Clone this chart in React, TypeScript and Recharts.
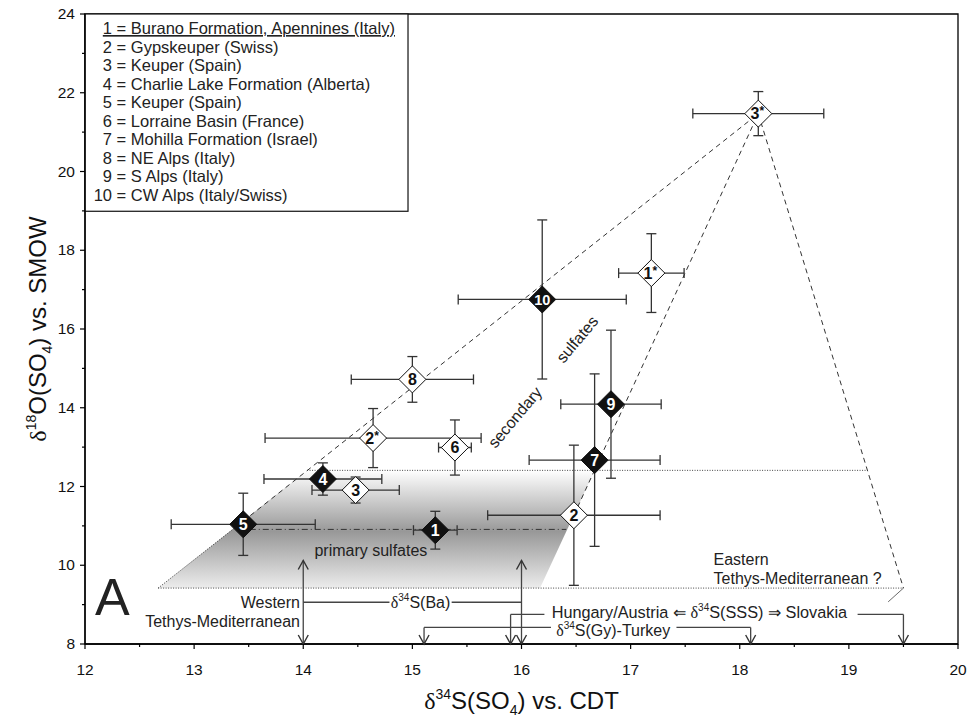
import React from "react";
import {
  ComposedChart,
  XAxis,
  YAxis,
  Area,
  Scatter,
  ErrorBar,
  ReferenceLine,
  ReferenceDot,
  ReferenceArea,
} from "recharts";

const FONT = '"Liberation Sans", Arial, Helvetica, sans-serif';
const GREEK = '"Liberation Serif", "Times New Roman", serif';

// axis ticks
const xTicks = [12, 12.5, 13, 13.5, 14, 14.5, 15, 15.5, 16, 16.5, 17, 17.5, 18, 18.5, 19, 19.5, 20];
const yTicks = [8, 9, 10, 11, 12, 13, 14, 15, 16, 17, 18, 19, 20, 21, 22, 23, 24];

// sample means (d34S vs CDT, d18O vs SMOW) with their spread
const sampleIds = ["1", "2", "3", "4", "5", "6", "7", "8", "9", "10", "1*", "2*", "3*"];
const d34S = [15.21, 16.48, 14.48, 14.18, 13.45, 15.39, 16.67, 15.0, 16.82, 16.19, 17.19, 14.64, 18.17];
const d18O = [10.89, 11.27, 11.91, 12.19, 11.04, 12.99, 12.67, 14.72, 14.09, 16.75, 17.42, 13.23, 21.47];
const errS = [0.2, 0.79, 0.4, 0.54, 0.66, 0.15, 0.6, 0.56, 0.46, 0.77, 0.3, 0.99, 0.6];
const errO = [0.48, 1.78, 0.33, 0.41, 0.79, 0.7, 2.19, 0.58, 1.88, 2.02, 1.0, 0.75, 0.56];
const filledIds = ["1", "4", "5", "7", "9", "10"];

const legendNames = [
  "Burano Formation, Apennines (Italy)",
  "Gypskeuper (Swiss)",
  "Keuper (Spain)",
  "Charlie Lake Formation (Alberta)",
  "Keuper (Spain)",
  "Lorraine Basin (France)",
  "Mohilla Formation (Israel)",
  "NE Alps (Italy)",
  "S Alps (Italy)",
  "CW Alps (Italy/Swiss)",
];

// primary sulfate field (range of d18O at each d34S)
const primaryField = [
  { x: 12.67, band: [9.42, 9.42] },
  { x: 14.035, band: [9.42, 12.41] },
  { x: 16.17, band: [9.42, 12.41] },
  { x: 16.67, band: [12.41, 12.41] },
];

// secondary sulfate envelope lines
const upperEnvelope = [{ x: 13.45, y: 11.12 }, { x: 18.17, y: 21.47 }];
const lowerEnvelope = [{ x: 16.48, y: 11.27 }, { x: 18.17, y: 21.47 }];
const easternEdge = [{ x: 18.17, y: 21.47 }, { x: 19.5, y: 9.42 }];
const primaryEdge = [{ x: 12.67, y: 9.42 }, { x: 13.45, y: 11.12 }];

const samples = sampleIds.map((id, i) => ({
  id,
  x: d34S[i],
  y: d18O[i],
  ex: errS[i],
  ey: errO[i],
  filled: filledIds.includes(id),
}));

const XTick = (props: any) => {
  const { x, y, payload } = props;
  const v = payload.value;
  const major = Number.isInteger(v);
  return (
    <g>
      <line x1={x} x2={x} y1={y} y2={y + (major ? 5 : 3)} stroke="#000" strokeWidth={1.2} />
      {major && (
        <text x={x} y={y + 31} textAnchor="middle" fontSize={15.5} fontFamily={FONT} fill="#111">
          {v}
        </text>
      )}
    </g>
  );
};

const YTick = (props: any) => {
  const { x, y, payload } = props;
  const v = payload.value;
  const major = v % 2 === 0;
  return (
    <g>
      <line x1={x - (major ? 5 : 3)} x2={x} y1={y} y2={y} stroke="#000" strokeWidth={1.2} />
      {major && (
        <text x={x - 10} y={y + 5} textAnchor="end" fontSize={15.5} fontFamily={FONT} fill="#111">
          {v}
        </text>
      )}
    </g>
  );
};

const XTitle = (props: any) => {
  const vb = props.viewBox;
  return (
    <text x={vb.x + vb.width / 2} y={vb.y + 65} textAnchor="middle" fontSize={24} fontFamily={FONT} fill="#111">
      <tspan fontFamily={GREEK}>δ</tspan>
      <tspan fontSize={14} dy={-10}>34</tspan>
      <tspan dy={10}>S(SO</tspan>
      <tspan fontSize={14} dy={6}>4</tspan>
      <tspan dy={-6}>) vs. CDT</tspan>
    </text>
  );
};

const YTitle = (props: any) => {
  const vb = props.viewBox;
  const cx = 46;
  const cy = vb.y + vb.height / 2;
  return (
    <text
      x={cx}
      y={cy}
      transform={`rotate(-90 ${cx} ${cy})`}
      textAnchor="middle"
      fontSize={24}
      fontFamily={FONT}
      fill="#111"
    >
      <tspan fontFamily={GREEK}>δ</tspan>
      <tspan fontSize={14} dy={-10}>18</tspan>
      <tspan dy={10}>O(SO</tspan>
      <tspan fontSize={14} dy={6}>4</tspan>
      <tspan dy={-6}>) vs. SMOW</tspan>
    </text>
  );
};

const Diamond = (props: any) => {
  const { cx, cy, payload } = props;
  const r = 13.5;
  const filled = payload.filled;
  const id: string = payload.id;
  const star = id.endsWith("*");
  const num = star ? id.slice(0, -1) : id;
  return (
    <g>
      <polygon
        points={`${cx},${cy - r} ${cx + r},${cy} ${cx},${cy + r} ${cx - r},${cy}`}
        fill={filled ? "#111" : "#fff"}
        stroke="#111"
        strokeWidth={1}
      />
      <text
        x={star ? cx - 1 : cx}
        y={cy + 5.5}
        textAnchor="middle"
        fontSize={id.length > 1 && !star ? 14.5 : 16}
        fontWeight="bold"
        fontFamily={FONT}
        fill={filled ? "#fff" : "#111"}
      >
        {num}
        {star && (
          <tspan fontSize={12} dy={-4}>
            *
          </tspan>
        )}
      </text>
    </g>
  );
};

const NoShape = () => <g />;

const LegendBox = (props: any) => {
  const { x, y, width, height } = props;
  return (
    <g>
      <rect x={x} y={y} width={width} height={height} fill="#fff" stroke="#111" strokeWidth={1.2} />
      {legendNames.map((name, i) => (
        <g key={name + i} fontSize={16.5} fontFamily={FONT} fill="#222">
          <text x={x + 27} y={y + 20 + i * 18.5} textAnchor="end" textDecoration={i === 0 ? "underline" : undefined}>
            {i + 1}
          </text>
          <text
            x={x + 27}
            y={y + 20 + i * 18.5}
            style={{ whiteSpace: "pre" }}
            textDecoration={i === 0 ? "underline" : undefined}
          >
            {` = ${name}`}
          </text>
        </g>
      ))}
    </g>
  );
};

const arrowDown = (p: any) => (
  <path d={`M${p.cx - 5},${p.cy - 9} L${p.cx},${p.cy} L${p.cx + 5},${p.cy - 9}`} fill="none" stroke="#333" strokeWidth={1.4} />
);
const arrowUp = (p: any) => (
  <path d={`M${p.cx - 5},${p.cy + 9} L${p.cx},${p.cy} L${p.cx + 5},${p.cy + 9}`} fill="none" stroke="#333" strokeWidth={1.4} />
);

const note = (
  key: string,
  x: number,
  y: number,
  content: React.ReactNode,
  anchor: "start" | "middle" | "end" = "middle",
  extra: { rotate?: number; size?: number } = {}
) => (
  <ReferenceDot
    key={key}
    x={x}
    y={y}
    r={0}
    ifOverflow="visible"
    shape={(p: any) => (
      <text
        x={p.cx}
        y={p.cy}
        dy="0.35em"
        textAnchor={anchor}
        fontSize={extra.size ?? 16}
        fontFamily={FONT}
        fill="#222"
        transform={extra.rotate ? `rotate(${extra.rotate} ${p.cx} ${p.cy})` : undefined}
      >
        {content}
      </text>
    )}
  />
);

const seg = (key: string, a: [number, number], b: [number, number], style: any = {}) => (
  <ReferenceLine
    key={key}
    segment={[{ x: a[0], y: a[1] }, { x: b[0], y: b[1] }]}
    stroke={style.stroke ?? "#444"}
    strokeWidth={style.width ?? 1.3}
    strokeDasharray={style.dash}
    ifOverflow="visible"
  />
);

const dotted = { stroke: "#444", width: 1, dash: "1 1.5" };

const d34 = (tail: string) => (
  <>
    <tspan fontFamily={GREEK}>δ</tspan>
    <tspan fontSize={10} dy={-7}>34</tspan>
    <tspan dy={7}>{tail}</tspan>
  </>
);

export default function App() {
  return (
    <div style={{ position: "absolute", left: 0, top: 0, background: "#fff" }}>
      <ComposedChart
        width={967}
        height={722}
        data={primaryField}
        margin={{ top: 14, right: 9, bottom: 0, left: 0 }}
      >
        <defs>
          <linearGradient id="primaryFill" x1="0" y1="0" x2="0" y2="1">
            <stop offset="0%" stopColor="#ffffff" />
            <stop offset="52%" stopColor="#989898" />
            <stop offset="100%" stopColor="#ececec" />
          </linearGradient>
        </defs>
        <XAxis
          type="number"
          dataKey="x"
          domain={[12, 20]}
          ticks={xTicks}
          interval={0}
          tickLine={false}
          tickSize={0}
          tickMargin={0}
          tick={<XTick />}
          height={78}
          axisLine={{ stroke: "#000", strokeWidth: 1.3 }}
          label={{ content: <XTitle /> }}
        />
        <YAxis
          type="number"
          dataKey="y"
          domain={[8, 24]}
          ticks={yTicks}
          interval={0}
          tickLine={false}
          tickSize={0}
          tickMargin={0}
          tick={<YTick />}
          width={85}
          axisLine={{ stroke: "#000", strokeWidth: 1.3 }}
          label={{ content: <YTitle /> }}
        />
        <ReferenceArea x1={12} x2={20} y1={8} y2={24} fill="none" stroke="#000" strokeWidth={1.3} />
        <Area
          dataKey="band"
          type="linear"
          fill="url(#primaryFill)"
          fillOpacity={1}
          stroke="none"
          dot={false}
          activeDot={false}
          isAnimationActive={false}
        />
        {seg("top", [14.035, 12.41], [19.17, 12.41], dotted)}
        {seg("bottom", [12.67, 9.42], [19.5, 9.42], dotted)}
        {seg("primary-mean", [13.51, 10.91], [16.41, 10.91], { stroke: "#333", width: 1, dash: "6 3 1 3" })}
        {seg("tail", [19.5, 9.42], [19.36, 9.07], { stroke: "#444", width: 0.8 })}
        {/* barite arrows */}
        {seg("ba14", [14, 8], [14, 10.12])}
        {seg("ba16", [16, 8], [16, 10.12])}
        {seg("baL", [14, 9.06], [14.79, 9.06])}
        {seg("baR", [15.36, 9.06], [16, 9.06])}
        {/* seawater sulfate */}
        {seg("hu1", [15.9, 8], [15.9, 8.75])}
        {seg("hu2", [15.9, 8.75], [16.21, 8.75])}
        {seg("sl1", [19.08, 8.75], [19.5, 8.75])}
        {seg("sl2", [19.5, 8.75], [19.5, 8])}
        {/* gypsum Turkey */}
        {seg("tu1", [15.107, 8], [15.107, 8.42])}
        {seg("tu2", [15.107, 8.42], [16.27, 8.42])}
        {seg("tu3", [17.42, 8.42], [18.1, 8.42])}
        {seg("tu4", [18.1, 8.42], [18.1, 8])}
        {[
          [14, 8],
          [16, 8],
          [15.9, 8],
          [19.5, 8],
          [15.107, 8],
          [18.1, 8],
        ].map(([x, y]) => (
          <ReferenceDot key={`ad${x}`} x={x} y={y} r={0} ifOverflow="visible" shape={arrowDown} />
        ))}
        {[
          [14, 10.12],
          [16, 10.12],
        ].map(([x, y]) => (
          <ReferenceDot key={`au${x}`} x={x} y={y} r={0} ifOverflow="visible" shape={arrowUp} />
        ))}
        <Scatter
          data={primaryEdge}
          line={{ stroke: "#444", strokeWidth: 1, strokeDasharray: "1 1.5" }}
          shape={NoShape}
          isAnimationActive={false}
        />
        <Scatter
          data={upperEnvelope}
          line={{ stroke: "#333", strokeWidth: 1, strokeDasharray: "5 4" }}
          shape={NoShape}
          isAnimationActive={false}
        />
        <Scatter
          data={lowerEnvelope}
          line={{ stroke: "#333", strokeWidth: 1, strokeDasharray: "5 4" }}
          shape={NoShape}
          isAnimationActive={false}
        />
        <Scatter
          data={easternEdge}
          line={{ stroke: "#333", strokeWidth: 1, strokeDasharray: "5 4" }}
          shape={NoShape}
          isAnimationActive={false}
        />
        <Scatter data={samples} shape={<Diamond />} isAnimationActive={false}>
          <ErrorBar dataKey="ex" direction="x" width={5} stroke="#333" strokeWidth={1.3} />
          <ErrorBar dataKey="ey" direction="y" width={5} stroke="#333" strokeWidth={1.3} />
        </Scatter>
        {note("A", 12.25, 9.19, "A", "middle", { size: 52 })}
        {note("west1", 13.97, 9.06, "Western", "end")}
        {note("west2", 13.97, 8.57, "Tethys-Mediterranean", "end")}
        {note("ba", 15.075, 9.06, d34("S(Ba)"))}
        {note("sss", 17.63, 8.8, <>{"Hungary/Austria \u21D0 "}{d34("S(SSS) \u21D2 Slovakia")}</>, "middle", { size: 16.3 })}
        {note("gy", 16.84, 8.34, d34("S(Gy)-Turkey"))}
        {note("east1", 17.76, 10.15, "Eastern", "start")}
        {note("east2", 17.76, 9.66, "Tethys-Mediterranean ?", "start")}
        {note("prim", 14.62, 10.37, "primary sulfates")}
        {note("sec", 15.94, 13.76, "secondary", "middle", { rotate: -50 })}
        {note("sulf", 16.51, 15.74, "sulfates", "middle", { rotate: -50 })}
        <ReferenceArea x1={12} x2={14.96} y1={18.99} y2={24} shape={<LegendBox />} ifOverflow="visible" />
      </ComposedChart>
    </div>
  );
}
